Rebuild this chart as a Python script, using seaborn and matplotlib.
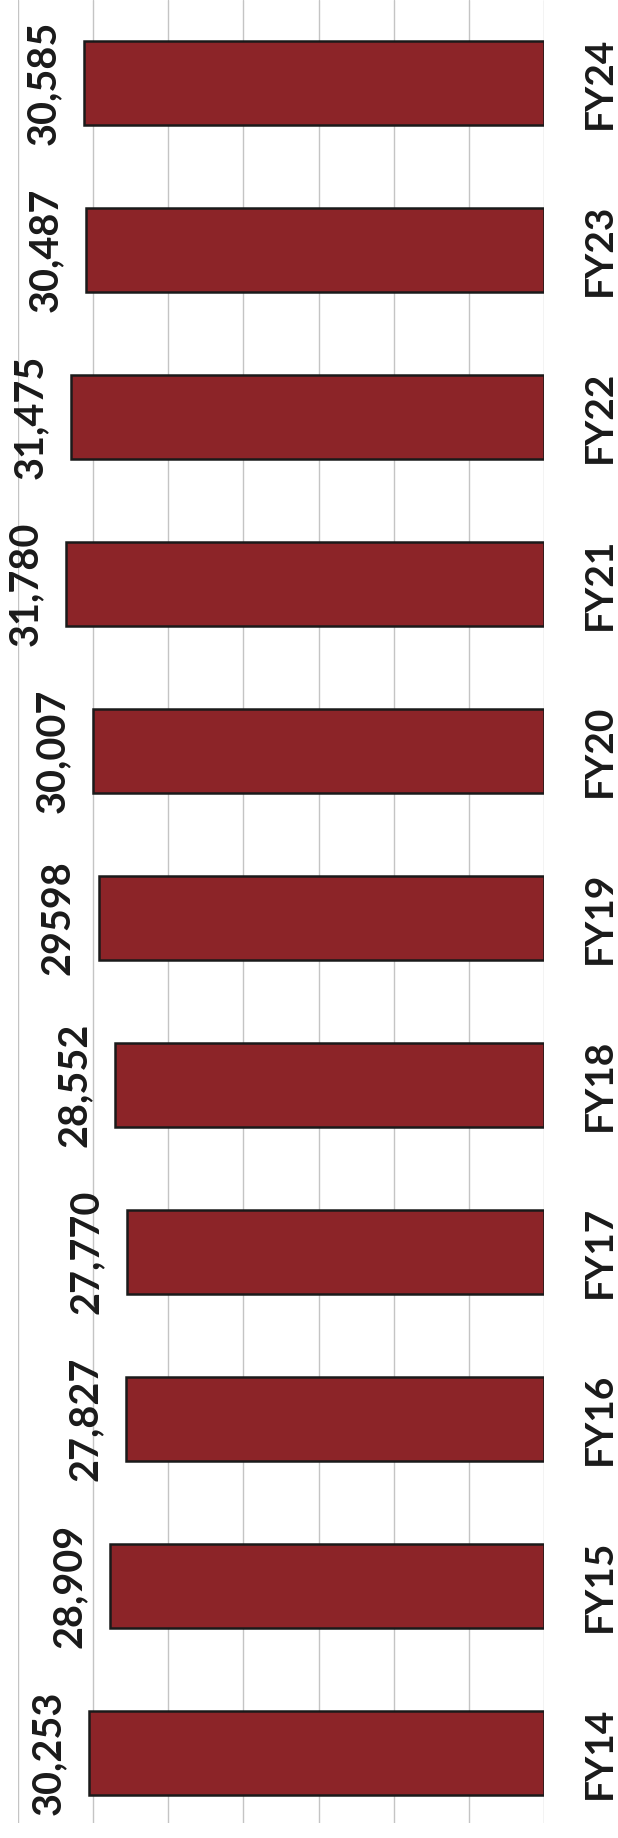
import pandas as pd
import matplotlib
matplotlib.use("Agg")
import matplotlib.pyplot as plt
import seaborn as sns

# Data, FY14 (bottom) to FY24 (top)
years = ["FY14", "FY15", "FY16", "FY17", "FY18", "FY19",
         "FY20", "FY21", "FY22", "FY23", "FY24"]
values = [30253, 28909, 27827, 27770, 28552, 29598,
          30007, 31780, 31475, 30487, 30585]
value_labels = ["30,253", "28,909", "27,827", "27,770", "28,552", "29598",
                "30,007", "31,780", "31,475", "30,487", "30,585"]
grid_ticks = [0, 5000, 10000, 15000, 20000, 25000, 30000, 35000]

sns.set_style("white")
plt.rcParams["font.family"] = ["Lato", "DejaVu Sans"]

df = pd.DataFrame({"year": years, "value": values, "label": value_labels})
order = years[::-1]  # seaborn puts the first category on top

fig = plt.figure(figsize=(6.18, 18.38), dpi=100)
ax = fig.add_axes([18 / 618, 15 / 1838, (544 - 18) / 618, 1823 / 1838])

sns.barplot(data=df, x="value", y="year", order=order, orient="h",
            color="#8C2428", saturation=1, width=0.5,
            edgecolor="#1a1a1a", linewidth=1.8, ax=ax, zorder=3)

# bars grow from the right edge towards the left
ax.set_xlim(35000, 0)
ax.set_ylim(10.42, -0.497)
ax.set_xticks(grid_ticks)
ax.grid(axis="x", color="#c4c4c4", linewidth=1.0, zorder=0)
ax.grid(axis="y", visible=False)
ax.set_axisbelow(True)
for s in ax.spines.values():
    s.set_visible(False)

ax.set_xlabel("")
ax.set_ylabel("")
ax.tick_params(axis="x", bottom=False, labelbottom=False)
ax.tick_params(axis="y", left=False, labelleft=False, right=True,
               labelright=True, length=0, pad=27)
for t in ax.get_yticklabels():
    t.set_rotation(90)
    t.set_va("center")
    t.set_ha("left")
    t.set_fontsize(28)
    t.set_fontweight("bold")
    t.set_color("#1a1a1a")

row = dict(zip(df["year"], df["label"]))
vals = dict(zip(df["year"], df["value"]))
for i, yr in enumerate(order):
    ax.annotate(row[yr], xy=(vals[yr], i), xytext=(-16, 0),
                textcoords="offset points", rotation=90,
                ha="right", va="center", fontsize=28.5,
                fontweight="bold", color="#1a1a1a", annotation_clip=False)

fig.savefig("out.png", dpi=100)
